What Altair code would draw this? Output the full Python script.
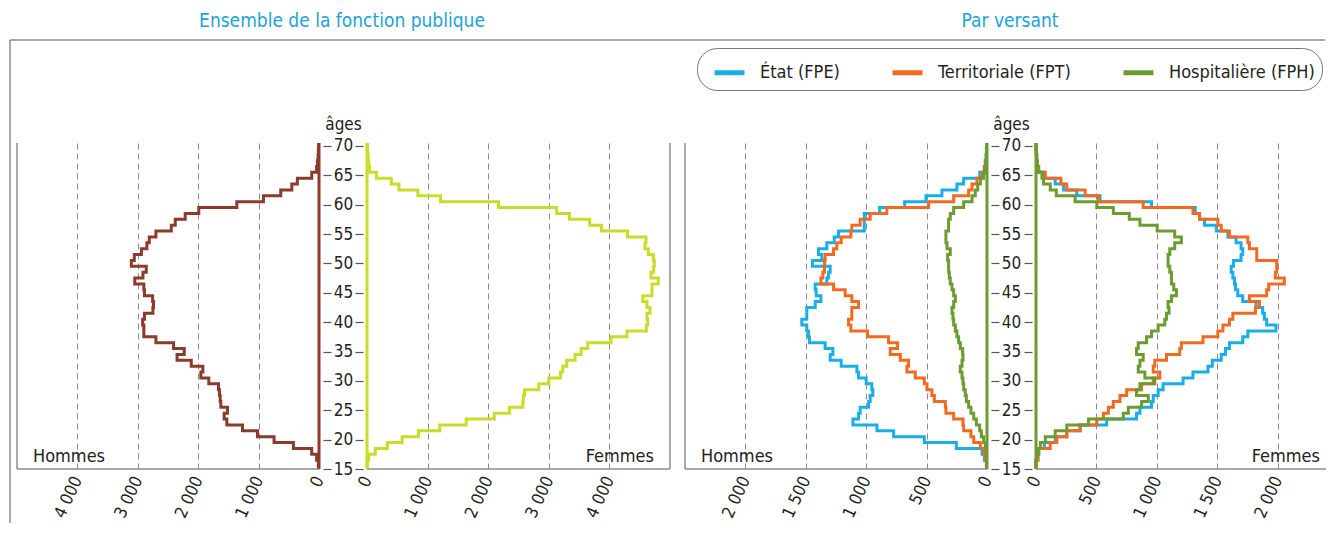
import altair as alt
import pandas as pd

# ---------------- data (ages 15 .. 70) ----------------
AGES = list(range(15, 71))

ENS_HOMMES = [0, 11, 39, 121, 424, 744, 1019, 1267, 1526, 1570,
              1515, 1625, 1636, 1647, 1664, 1824, 1956, 1923, 2115, 2350,
              2231, 2408, 2700, 2900, 2900, 2920, 2890, 2750, 2740, 2755,
              2890, 2900, 3050, 2915, 2860, 3107, 3058, 2940, 2850, 2810,
              2700, 2446, 2380, 2215, 1990, 1360, 920, 633, 450, 358,
              120, 40, 25, 15, 10, 5]
ENS_FEMMES = [0, 5, 27, 137, 335, 580, 850, 1200, 1637, 2100,
              2350, 2571, 2580, 2600, 2835, 3000, 3192, 3230, 3297, 3434,
              3533, 3643, 4027, 4290, 4610, 4632, 4620, 4670, 4620, 4550,
              4703, 4703, 4808, 4687, 4730, 4742, 4725, 4643, 4588, 4604,
              4300, 3870, 3675, 3340, 3130, 2170, 1214, 840, 527, 400,
              154, 44, 30, 20, 10, 5]

FPE_H = [0, 5, 22, 41, 254, 519, 773, 911, 1110, 1063,
         1050, 980, 967, 945, 953, 1000, 1063, 1077, 1207, 1298,
         1276, 1340, 1470, 1478, 1492, 1533, 1492, 1492, 1422, 1375,
         1414, 1422, 1326, 1312, 1298, 1445, 1367, 1395, 1326, 1265,
         1229, 1016, 1016, 1016, 889, 682, 505, 373, 249, 193,
         60, 22, 15, 8, 5, 2]
FPT_H = [0, 5, 14, 22, 55, 110, 133, 193, 199, 276,
         340, 345, 436, 456, 497, 519, 594, 663, 649, 718,
         801, 740, 815, 989, 1127, 1146, 1119, 1119, 1063, 1119,
         1174, 1270, 1375, 1359, 1345, 1345, 1340, 1270, 1243, 1207,
         1127, 1119, 1050, 967, 829, 483, 276, 152, 124, 83,
         41, 22, 10, 5, 3, 0]
FPH_H = [0, 2, 3, 5, 14, 28, 47, 61, 88, 110,
         133, 152, 171, 180, 193, 199, 207, 221, 207, 199,
         202, 221, 235, 249, 262, 276, 282, 290, 276, 262,
         276, 290, 304, 312, 318, 318, 326, 304, 331, 340,
         340, 318, 318, 304, 276, 193, 124, 97, 77, 55,
         28, 14, 8, 5, 3, 0]

FPE_F = [0, 0, 5, 22, 69, 159, 255, 365, 585, 832,
         860, 956, 970, 1011, 1052, 1217, 1299, 1423, 1459, 1533,
         1568, 1601, 1711, 1753, 1986, 1909, 1890, 1876, 1821, 1711,
         1670, 1651, 1643, 1629, 1615, 1634, 1697, 1711, 1697, 1656,
         1588, 1492, 1395, 1354, 1318, 956, 530, 338, 228, 159,
         63, 22, 12, 6, 3, 0]
FPT_F = [0, 0, 18, 22, 118, 173, 255, 365, 503, 558,
         599, 640, 695, 750, 874, 970, 1025, 970, 983, 1080,
         1189, 1203, 1382, 1505, 1547, 1601, 1629, 1816, 1849, 1766,
         1909, 1926, 2055, 1981, 1992, 1992, 1827, 1827, 1766, 1753,
         1601, 1533, 1505, 1354, 1299, 887, 516, 407, 255, 206,
         77, 22, 12, 6, 3, 0]
FPH_F = [0, 0, 5, 22, 36, 77, 159, 255, 434, 722,
         764, 874, 929, 832, 860, 983, 901, 846, 860, 887,
         832, 846, 915, 956, 1011, 1066, 1080, 1101, 1093, 1121,
         1162, 1140, 1121, 1121, 1107, 1093, 1093, 1107, 1148, 1203,
         1148, 1003, 860, 772, 640, 503, 324, 168, 118, 63,
         49, 20, 10, 5, 3, 0]

VERSANTS = ["État (FPE)", "Territoriale (FPT)", "Hospitalière (FPH)"]
VERSANT_COLORS = ["#1aaee6", "#f26a22", "#6c9c2f"]
AGE_TICKS = [15, 20, 25, 30, 35, 40, 45, 50, 55, 60, 65, 70]
ENS_TICKS = [0, 1000, 2000, 3000, 4000]
VER_TICKS = [0, 500, 1000, 1500, 2000]

# ---------------- styling ----------------
FONT = "DejaVu Sans Condensed, Liberation Sans, sans-serif"
TXT = "#231f20"
GRID = "#8a8a8a"
FRAME = "#8c8c8c"
TITLE_C = "#1ba3d7"
BROWN = "#8b3a2c"
YELLOW = "#c9dc2a"
H = 326
LABEL_EXPR = "replace(format(datum.value, ','), ',', ' ')"
ONE = pd.DataFrame({"k": [0]})


def step_df(values, versant=None):
    rows = []
    for i, (a, v) in enumerate(zip(AGES, values)):
        for j, y in enumerate((a - 0.5, a + 0.5)):
            r = {"ordre": 2 * i + j, "age": y, "effectif": v}
            if versant is not None:
                r["versant"] = versant
            rows.append(r)
    return pd.DataFrame(rows)


def x_axis(ticks):
    return alt.Axis(values=ticks, title=None, grid=True, gridDash=[6, 4],
                    gridColor=GRID, gridWidth=1, domain=False, ticks=False,
                    labelAngle=295, labelAlign="right", labelBaseline="middle",
                    labelPadding=8, labelFont=FONT, labelFontSize=17,
                    labelColor=TXT, labelExpr=LABEL_EXPR,
                    labelFlush=False, labelOverlap=False)


def x_enc(xmax, ticks, rng=None, reverse=False):
    if rng is not None:
        sc = alt.Scale(domain=[0, xmax], range=rng, nice=False)
    else:
        sc = alt.Scale(domain=[0, xmax], reverse=reverse, nice=False)
    return alt.X("effectif:Q", scale=sc, axis=x_axis(ticks))


Y_SCALE = alt.Scale(domain=[15, 70.5], nice=False, zero=False)

Y_RIGHT = alt.Axis(orient="right", values=AGE_TICKS, offset=4, tickSize=8,
                   tickColor="#555", tickWidth=1.2, domain=False, grid=False,
                   labelAlign="center", labelBaseline="middle", labelPadding=12,
                   labelFont=FONT, labelFontSize=17, labelColor=TXT,
                   labelFlush=False, labelOverlap=False, title="âges",
                   titleAngle=0, titleAlign="center", titleBaseline="alphabetic",
                   titleX=20, titleY=-14, titleFont=FONT, titleFontSize=17,
                   titleFontWeight="normal", titleColor=TXT)


def y_left(offset):
    return alt.Axis(orient="left", values=AGE_TICKS, offset=offset, tickSize=8,
                    tickColor="#555", tickWidth=1.2, domain=False, grid=False,
                    labels=False, title=None)


def text_layer(txt, x, y, align="left", size=18, color=TXT):
    return alt.Chart(ONE).mark_text(
        align=align, baseline="alphabetic", font=FONT, fontSize=size, color=color
    ).encode(x=alt.value(x), y=alt.value(y), text=alt.value(txt))


def zero_rule(color):
    return alt.Chart(ONE).mark_rule(color=color, strokeWidth=3).encode(
        x=alt.datum(0), y=alt.value(0), y2=alt.value(H))


def bottom_rule(xmax):
    return alt.Chart(ONE).mark_rule(color=FRAME, strokeWidth=1.5).encode(
        x=alt.datum(0), x2=alt.datum(xmax), y=alt.value(H))


def side_rule(xmax):
    return alt.Chart(ONE).mark_rule(color=FRAME, strokeWidth=1.5).encode(
        x=alt.datum(xmax), y=alt.value(0), y2=alt.value(H))


color_versant = alt.Color(
    "versant:N",
    scale=alt.Scale(domain=VERSANTS, range=VERSANT_COLORS),
    legend=alt.Legend(title=None, orient="none", legendX=680, legendY=-95,
                      direction="horizontal", symbolType="stroke",
                      symbolStrokeWidth=5, symbolSize=900, symbolOffset=8,
                      labelFont=FONT, labelFontSize=18, labelColor=TXT,
                      labelLimit=400, labelOffset=13, columnPadding=42,
                      strokeColor="#777", cornerRadius=20, padding=7),
)

# ---------------- panel 1 : Ensemble, hommes ----------------
he_line = alt.Chart(step_df(ENS_HOMMES)).mark_line(
    strokeWidth=3, clip=True, color=BROWN, strokeJoin="miter").encode(
    x=x_enc(5000, ENS_TICKS, reverse=True),
    y=alt.Y("age:Q", scale=Y_SCALE, axis=Y_RIGHT),
    order="ordre:Q")
frame_v = alt.Chart(ONE).mark_rule(color=FRAME, strokeWidth=1.5).encode(
    x=alt.value(-7), y=alt.value(-103), y2=alt.value(380))
frame_h = alt.Chart(ONE).mark_rule(color=FRAME, strokeWidth=1.5).encode(
    x=alt.value(-7), x2=alt.value(1308), y=alt.value(-103))
he = alt.layer(
    frame_v, frame_h, he_line, side_rule(5000), bottom_rule(5000), zero_rule(BROWN),
    text_layer("Hommes", 16, 319),
    text_layer("Ensemble de la fonction publique", 325, -116, "center", 19, TITLE_C),
).properties(width=302, height=H)

# ---------------- panel 2 : Ensemble, femmes ----------------
fe_line = alt.Chart(step_df(ENS_FEMMES)).mark_line(
    strokeWidth=3, clip=True, color=YELLOW, strokeJoin="miter").encode(
    x=x_enc(5000, ENS_TICKS, rng=[33, 336]),
    y=alt.Y("age:Q", scale=Y_SCALE, axis=y_left(-29)),
    order="ordre:Q")
fe = alt.layer(
    fe_line, side_rule(5000), bottom_rule(5000), zero_rule(YELLOW),
    text_layer("Femmes", 320, 319, "right"),
).properties(width=336, height=H)

# ---------------- panel 3 : Par versant, hommes ----------------
hv_df = pd.concat([step_df(FPE_H, VERSANTS[0]), step_df(FPT_H, VERSANTS[1]),
                   step_df(FPH_H, VERSANTS[2])], ignore_index=True)
hv_line = alt.Chart(hv_df).mark_line(strokeWidth=3, clip=True, strokeJoin="miter").encode(
    x=x_enc(2500, VER_TICKS, reverse=True),
    y=alt.Y("age:Q", scale=Y_SCALE, axis=Y_RIGHT),
    color=color_versant,
    order="ordre:Q")
hv = alt.layer(
    hv_line, side_rule(2500), bottom_rule(2500), zero_rule(VERSANT_COLORS[2]),
    text_layer("Hommes", 16, 319),
    text_layer("Par versant", 325, -116, "center", 19, TITLE_C),
).properties(width=302, height=H)

# ---------------- panel 4 : Par versant, femmes ----------------
fv_df = pd.concat([step_df(FPE_F, VERSANTS[0]), step_df(FPT_F, VERSANTS[1]),
                   step_df(FPH_F, VERSANTS[2])], ignore_index=True)
fv_line = alt.Chart(fv_df).mark_line(strokeWidth=3, clip=True, strokeJoin="miter").encode(
    x=x_enc(2400, VER_TICKS, rng=[34, 324]),
    y=alt.Y("age:Q", scale=Y_SCALE, axis=y_left(-30)),
    color=color_versant,
    order="ordre:Q")
fv = alt.layer(
    fv_line, bottom_rule(2400), zero_rule(VERSANT_COLORS[2]),
    text_layer("Femmes", 318, 319, "right"),
).properties(width=324, height=H)

chart = alt.hconcat(he, fe, hv, fv, spacing=15, bounds="flush").properties(
    padding={"left": 1, "top": 4, "right": 0, "bottom": 0}
).configure_view(stroke=None)

chart.save("out.html", embed_options={"renderer": "svg", "actions": False})
